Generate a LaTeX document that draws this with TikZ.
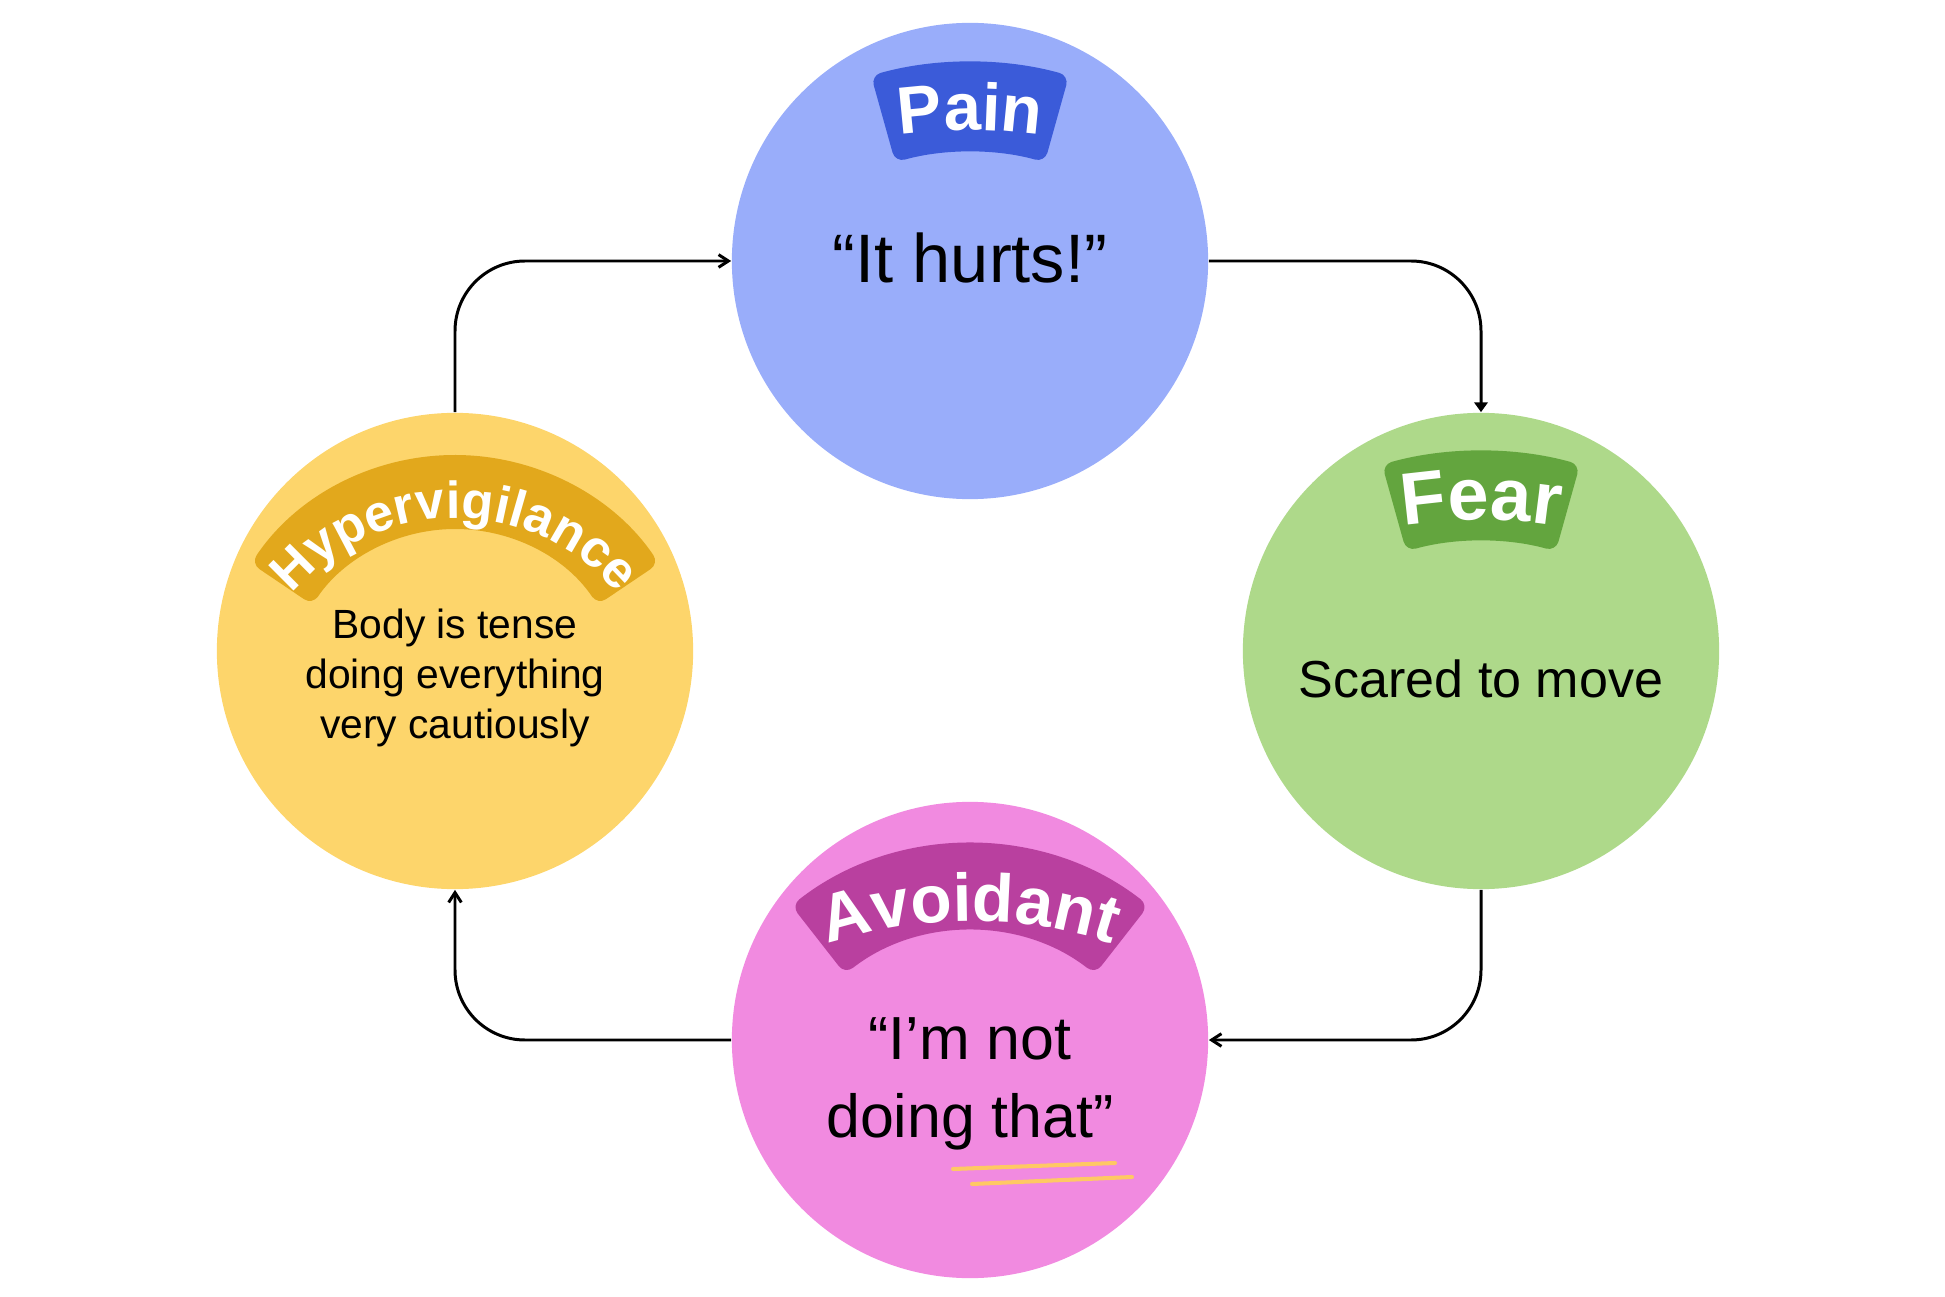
\documentclass[tikz,border=0pt]{standalone}
\usepackage{fontspec}
\setmainfont{Liberation Sans}
\usetikzlibrary{arrows.meta,decorations.text}

\definecolor{painfill}{HTML}{99ADFA}
\definecolor{painband}{HTML}{3B5BD9}
\definecolor{fearfill}{HTML}{AED98A}
\definecolor{fearband}{HTML}{63A53E}
\definecolor{avoidfill}{HTML}{F18AE0}
\definecolor{avoidband}{HTML}{B9409F}
\definecolor{hyperfill}{HTML}{FDD56B}
\definecolor{hyperband}{HTML}{E2A81C}
\definecolor{scribble}{HTML}{FFC864}

\begin{document}
\begin{tikzpicture}[x=0.01cm, y=0.01cm,
    bubble/.style={circle, inner sep=0pt, minimum size=4.76cm},
    flow/.style={line width=0.85pt, rounded corners=0.7cm, -{Straight Barb[length=2.8pt,width=3.6pt]}},
    banner/.style={rounded corners=0.1cm},
    saying/.style={inner sep=0pt, anchor=base, align=center}]
    \useasboundingbox (0,0) rectangle (1945,1296);

    %circles
    \node[bubble, fill=painfill] (pain) at (970,1035) {};
    \node[bubble, fill=fearfill] (fear) at (1481,645) {};
    \node[bubble, fill=avoidfill] (avoid) at (970,256) {};
    \node[bubble, fill=hyperfill] (hyper) at (455,645) {};

    %cycle
    \draw[flow, -{Triangle[length=2.8pt,width=3.8pt]}] (pain.east) -| (fear.north);
    \draw[flow] (fear.south) |- (avoid.east);
    \draw[flow] (avoid.west) -| (hyper.south);
    \draw[flow] (hyper.north) |- (pain.west);

    %banners
    \coordinate (painarc) at (970,866);
    \coordinate (feararc) at (1481,477);
    \coordinate (avoidarc) at (970,162);
    \coordinate (hyperarc) at (455,595);
    \fill[painband, banner] ([shift={(105.6:368)}]painarc) arc[start angle=105.6, end angle=74.4, radius=368]
        -- ([shift={(74.4:278)}]painarc) arc[start angle=74.4, end angle=105.6, radius=278] -- cycle;
    \fill[fearband, banner] ([shift={(105.6:368)}]feararc) arc[start angle=105.6, end angle=74.4, radius=368]
        -- ([shift={(74.4:278)}]feararc) arc[start angle=74.4, end angle=105.6, radius=278] -- cycle;
    \fill[avoidband, banner] ([shift={(128:290)}]avoidarc) arc[start angle=128, end angle=52, radius=290]
        -- ([shift={(52:203)}]avoidarc) arc[start angle=52, end angle=128, radius=203] -- cycle;
    \fill[hyperband, banner] ([shift={(146:246)}]hyperarc) arc[start angle=146, end angle=34, radius=246]
        -- ([shift={(34:172)}]hyperarc) arc[start angle=34, end angle=146, radius=172] -- cycle;

    %banner words
    \coordinate (painword) at (970,666);
    \coordinate (fearword) at (1481,276);
    \coordinate (avoidword) at (970,-75);
    \coordinate (hyperword) at (455,566);
    \path[decorate, decoration={text along path, text align=center, text color=white,
        text={|\fontsize{19pt}{19pt}\selectfont\bfseries|Pain}}]
        ([shift={(110:500)}]painword) arc[start angle=110, end angle=70, radius=500];
    \path[decorate, decoration={text along path, text align=center, text color=white,
        text={|\fontsize{21pt}{21pt}\selectfont\bfseries|Fear}}]
        ([shift={(110:500)}]fearword) arc[start angle=110, end angle=70, radius=500];
    \path[decorate, decoration={text along path, text align=center, text color=white,
        text={|\fontsize{19.2pt}{19.2pt}\selectfont\bfseries|Avoidant}}]
        ([shift={(120:450)}]avoidword) arc[start angle=120, end angle=60, radius=450];
    \path[decorate, decoration={text along path, text align=center, text color=white,
        text={|\fontsize{14.8pt}{14.8pt}\selectfont\bfseries|Hypervigilance}}]
        ([shift={(155:212)}]hyperword) arc[start angle=155, end angle=25, radius=212];

    %sayings
    \node[saying, font=\fontsize{19.5pt}{19.5pt}\selectfont] (painsay) at (970,1013) {“It hurts!”};
    \node[saying, font=\fontsize{14.8pt}{14.8pt}\selectfont] (fearsay) at (1481,599) {Scared to move};
    \node[saying, font=\fontsize{11.6pt}{14.2pt}\selectfont] (hypersay) at (455,558) {Body is tense\\doing everything\\very cautiously};
    \node[saying, font=\fontsize{17.3pt}{21.9pt}\selectfont] (avoidsay) at (970,159) {“I’m not\\doing that”};

    %underline
    \draw[scribble, line width=1.15pt, line cap=round] (953,127) -- (1115,133);
    \draw[scribble, line width=1.15pt, line cap=round] (972,112) -- (1132,119);
\end{tikzpicture}
\end{document}
